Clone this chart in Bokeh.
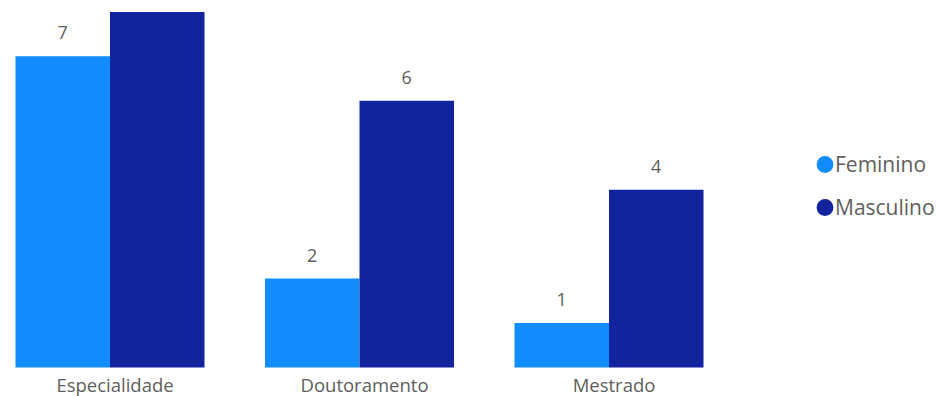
from bokeh.plotting import figure
from bokeh.models import ColumnDataSource, Range1d, Legend, LegendItem
from bokeh.transform import dodge
from bokeh.core.properties import value
from bokeh.embed import file_html
from bokeh.resources import INLINE

categories = ["Especialidade", "Doutoramento", "Mestrado"]
feminino = [7, 2, 1]
masculino = [8, 6, 4]
series_names = ["Feminino", "Masculino"]
colors = ["#118DFF", "#12239E"]

TEXT = "#605E5C"
FONT = "Open Sans"
Y_MAX = 8.2565

xc = [i + 0.5 for i in range(len(categories))]
src = ColumnDataSource(dict(
    xc=xc,
    cat=categories,
    zero=[0] * len(categories),
    fem=feminino,
    mas=masculino,
    # labels that would not fit above the plot area are hidden, as in the reference
    fem_lbl=[str(v) if v < Y_MAX - 0.6 else "" for v in feminino],
    mas_lbl=[str(v) if v < Y_MAX - 0.6 else "" for v in masculino],
))

p = figure(
    width=938, height=396,
    x_range=Range1d(0.0611, 3.8206),
    y_range=Range1d(-0.6524, Y_MAX),
    output_backend="svg", toolbar_location=None,
    min_border=0, outline_line_color=None,
)
p.grid.grid_line_color = None
p.axis.visible = False

W = 0.3788
OFF = 0.1894
p.vbar(x=dodge("xc", -OFF), top="fem", width=W, bottom=0,
       source=src, fill_color=colors[0], line_color=None)
p.vbar(x=dodge("xc", OFF), top="mas", width=W, bottom=0,
       source=src, fill_color=colors[1], line_color=None)

for fld, lbl, off in (("fem", "fem_lbl", -OFF), ("mas", "mas_lbl", OFF)):
    p.text(x=dodge("xc", off), y=fld, text=lbl, source=src,
           text_align="center", text_baseline="alphabetic", y_offset=-23.5,
           text_font=value(FONT), text_font_size="18px", text_color=TEXT)

# category labels under the bars
p.text(x="xc", y="zero", text="cat", source=src,
       text_align="center", text_baseline="alphabetic", x_offset=5, y_offset=17,
       text_font=value(FONT), text_font_size="18.5px", text_color=TEXT)

nan = float("nan")
r_f = p.ellipse(x=[xc[0]], y=[nan], width=16, height=16,
                width_units="screen", height_units="screen",
                fill_color=colors[0], line_color=None)
r_m = p.ellipse(x=[xc[0]], y=[nan], width=16, height=16,
                width_units="screen", height_units="screen",
                fill_color=colors[1], line_color=None)

legend = Legend(
    items=[LegendItem(label=series_names[0], renderers=[r_f]),
           LegendItem(label=series_names[1], renderers=[r_m])],
    location=(814, 174),
    glyph_width=21, glyph_height=30, label_height=30,
    label_standoff=0, spacing=13, padding=0, margin=0,
    border_line_color=None, background_fill_alpha=0,
    label_text_font=FONT, label_text_font_size="21px",
    label_text_color=TEXT,
)
p.add_layout(legend, "center")

open("out.html", "w").write(file_html(p, INLINE))
